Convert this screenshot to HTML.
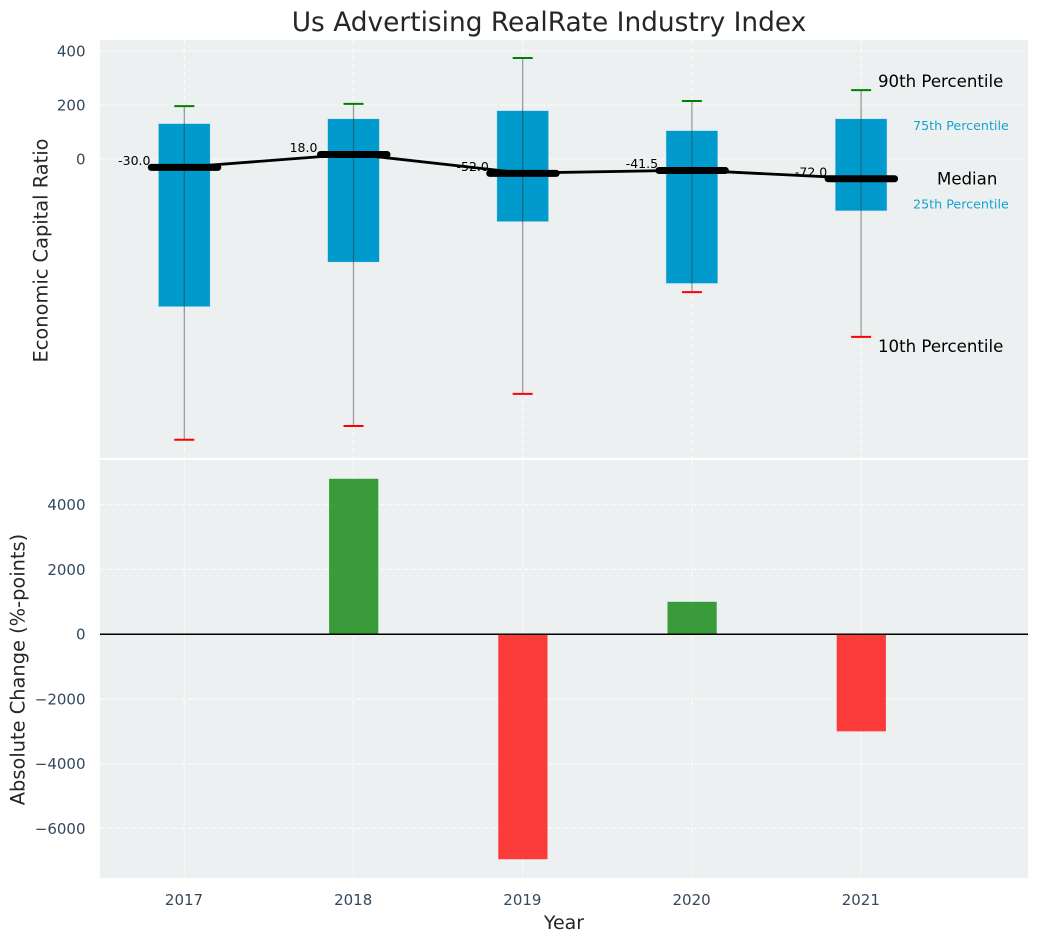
<!DOCTYPE html>
<html lang="en">
<head>
<meta charset="utf-8">
<title>Us Advertising RealRate Industry Index</title>
<style>
html,body{margin:0;padding:0;background:#fff;width:1039px;height:942px;overflow:hidden}
svg{display:block;font-family:"DejaVu Sans","Liberation Sans",sans-serif}
</style>
</head>
<body>
<svg id="chart" xmlns="http://www.w3.org/2000/svg" width="1039" height="942" viewBox="0 0 1039 942">
  <rect x="100" y="40" width="928" height="418" fill="#ecf0f1"/>
  <rect x="100" y="460" width="928" height="418" fill="#ecf0f1"/>
  <g id="grid"></g>
  <g id="bars"></g>
  <g id="boxes"></g>
  <g id="labels"></g>
  <text x="549" y="31" text-anchor="middle" font-size="26.4" fill="#262626">Us Advertising RealRate Industry Index</text>
  <text transform="translate(47.5,250.5) rotate(-90)" text-anchor="middle" font-size="19.4" fill="#262626">Economic Capital Ratio</text>
  <text transform="translate(24.5,669.5) rotate(-90)" text-anchor="middle" font-size="19.4" fill="#262626">Absolute Change (%-points)</text>
  <text x="564" y="929" text-anchor="middle" font-size="19" fill="#262626">Year</text>
</svg>
<script>
const years = ["2017", "2018", "2019", "2020", "2021"];
const p90 = [196, 204, 374, 215, 255];
const q3 = [130, 148, 178, 104, 148];
const medians = [-30, 18, -52, -41.5, -72];
const q1 = [-546, -381, -231, -460, -191];
const p10 = [-1040, -989, -870, -493, -659];
const medianLabels = ["-30.0", "18.0", "-52.0", "-41.5", "-72.0"];
const changes = [0, 4800, -6950, 1000, -3000];
const topTicks = [400, 200, 0];
const topTickLabels = ["400", "200", "0"];
const bottomTicks = [4000, 2000, 0, -2000, -4000, -6000];
const bottomTickLabels = ["4000", "2000", "0", "\u22122000", "\u22124000", "\u22126000"];

const NS = "http://www.w3.org/2000/svg";
function xAxis(i) { return 184.3 + i * 169.2; }
function yTop(v) { return 159 - v * 0.27; }
function yBottom(v) { return 634.2 - v * 0.03238; }
function make(parent, tag, attrs, text) {
  const el = document.createElementNS(NS, tag);
  for (const k in attrs) el.setAttribute(k, attrs[k]);
  if (text !== undefined) el.textContent = text;
  document.getElementById(parent).appendChild(el);
  return el;
}
const gridStyle = { stroke: "#ffffff", "stroke-width": 1.1, "stroke-dasharray": "5 3", opacity: 0.85 };

topTicks.forEach(function (t, i) {
  const y = yTop(t);
  const line = make("grid", "line", Object.assign({ x1: 100, x2: 1028, y1: y, y2: y }, gridStyle));
  
  
  const label = make("labels", "text", { x: 85.5, y: y + 5.5, "text-anchor": "end", "font-size": 15, fill: "#34495e" }, topTickLabels[i]);
  
  
});
bottomTicks.forEach(function (t, i) {
  const y = yBottom(t);
  const line = make("grid", "line", Object.assign({ x1: 100, x2: 1028, y1: y, y2: y }, gridStyle));
  
  
  const label = make("labels", "text", { x: 85.5, y: y + 5.5, "text-anchor": "end", "font-size": 15, fill: "#34495e" }, bottomTickLabels[i]);
  
  
});
years.forEach(function (year, i) {
  const x = xAxis(i);
  const topLine = make("grid", "line", Object.assign({ x1: x, x2: x, y1: 40, y2: 458 }, gridStyle));
  
  
  const bottomLine = make("grid", "line", Object.assign({ x1: x, x2: x, y1: 460, y2: 878 }, gridStyle));
  
  
  const label = make("labels", "text", { x: x - 0.3, y: 905, "text-anchor": "middle", "font-size": 15, fill: "#34495e" }, year);
  
  
});

changes.forEach(function (v, i) {
  if (v === 0) return;
  const y0 = yBottom(0), y1 = yBottom(v);
  const bar = make("bars", "rect", {
    x: xAxis(i) - 24.4, width: 49.2,
    y: Math.min(y0, y1), height: Math.abs(y1 - y0),
    fill: v > 0 ? "#008000" : "#ff0000", opacity: 0.76
  });
  
  
});
const zero = make("bars", "line", { x1: 100, x2: 1028, y1: yBottom(0), y2: yBottom(0), stroke: "#000", "stroke-width": 1.5 });



years.forEach(function (year, i) {
  const x = xAxis(i);
  const box = make("boxes", "rect", {
    x: x - 25.6, width: 51.2, y: yTop(q3[i]), height: yTop(q1[i]) - yTop(q3[i]),
    fill: "#009acd", stroke: "#009acd", "stroke-opacity": 0.2, "stroke-width": 1
  });
  
  
  const whisker = make("boxes", "line", { x1: x, x2: x, y1: yTop(p90[i]), y2: yTop(p10[i]), stroke: "#333", "stroke-opacity": 0.5, "stroke-width": 1.2 });
  
  
  const capHigh = make("boxes", "line", { x1: x - 10, x2: x + 10, y1: yTop(p90[i]), y2: yTop(p90[i]), stroke: "#008000", "stroke-width": 2 });
  
  
  const capLow = make("boxes", "line", { x1: x - 10, x2: x + 10, y1: yTop(p10[i]), y2: yTop(p10[i]), stroke: "#ff0000", "stroke-width": 2 });
  
  
});

const trend = make("boxes", "polyline", {
  points: medians.map(function (m, i) { return xAxis(i) + "," + yTop(m); }).join(" "),
  fill: "none", stroke: "#000", "stroke-width": 2.8
});



years.forEach(function (year, i) {
  const x = xAxis(i), y = yTop(medians[i]);
  const bar = make("boxes", "line", { x1: x - 33, x2: x + 33.5, y1: y + 0.3, y2: y + 0.3, stroke: "#000", "stroke-width": 7, "stroke-linecap": "round" });
  
  
  const label = make("boxes", "text", { x: x - 50, y: y - 2, "text-anchor": "middle", "font-size": 12.5, fill: "#000" }, medianLabels[i]);
  
  
});

const last = years.length - 1;
const note90 = make("boxes", "text", { x: 878, y: yTop(p90[last]) - 3, "font-size": 16.6, fill: "#000" }, "90th Percentile");


const note75 = make("boxes", "text", { x: 913, y: yTop(q3[last]) + 11, "font-size": 12.7, fill: "#009acd", opacity: 0.9 }, "75th Percentile");


const noteMed = make("boxes", "text", { x: 937, y: yTop(medians[last]) + 6, "font-size": 16.6, fill: "#000" }, "Median");


const note25 = make("boxes", "text", { x: 913, y: yTop(q1[last]) - 2, "font-size": 12.7, fill: "#009acd", opacity: 0.9 }, "25th Percentile");


const note10 = make("boxes", "text", { x: 878, y: yTop(p10[last]) + 15, "font-size": 16.6, fill: "#000" }, "10th Percentile");


</script>
</body>
</html>
